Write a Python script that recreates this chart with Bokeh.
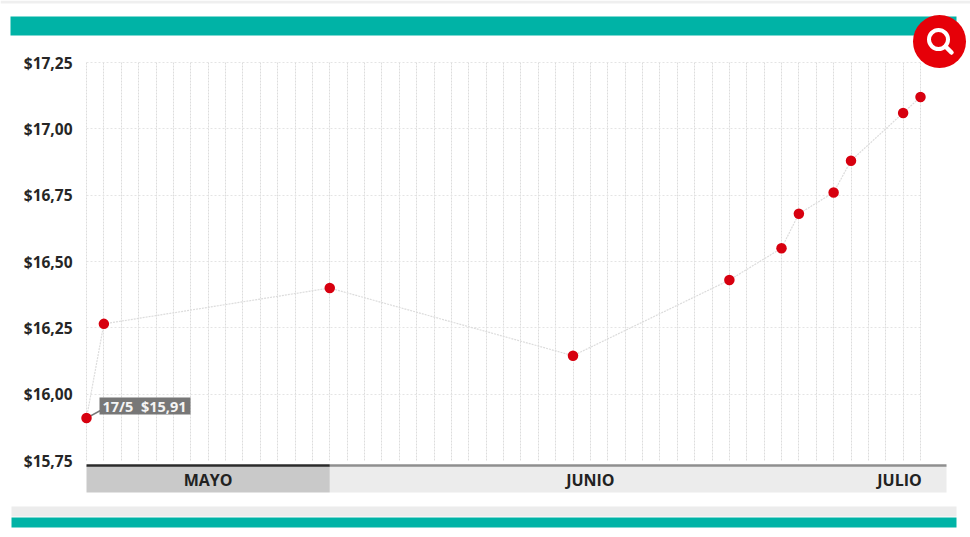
from datetime import datetime, timedelta
from bokeh.plotting import figure
from bokeh.models import Range1d, FixedTicker
from bokeh.core.properties import value
from bokeh.embed import file_html
from bokeh.resources import INLINE

# ---- data ----
dates = ["2024-05-17", "2024-05-18", "2024-05-31", "2024-06-14", "2024-06-23", "2024-06-26",
         "2024-06-27", "2024-06-29", "2024-06-30", "2024-07-03", "2024-07-04"]
prices = [15.91, 16.265, 16.40, 16.145, 16.43, 16.55, 16.68, 16.76, 16.88, 17.06, 17.12]
y_ticks = [15.75, 16.00, 16.25, 16.50, 16.75, 17.00, 17.25]
y_labels = ["$15,75", "$16,00", "$16,25", "$16,50", "$16,75", "$17,00", "$17,25"]
months = ["MAYO", "JUNIO", "JULIO"]
month_label_dates = ["2024-05-24", "2024-06-15", "2024-07-02 19:00"]
callout = "17/5\u00a0 $15,91"

W, H = 970, 537
L = 86
PX_DAY = 17.375
PX_UNIT = 66.33 / 0.25


def d(s):
    return datetime.fromisoformat(s)


x0 = d(dates[0])
xs = [d(s) for s in dates]


def px_x(px):
    return x0 + timedelta(days=(px - L) / PX_DAY)


def px_y(py):
    return 15.75 + (460 - py) / PX_UNIT


def ms(t):
    return (t - datetime(1970, 1, 1)).total_seconds() * 1000


p = figure(width=W, height=H, x_axis_type="datetime", output_backend="svg", toolbar_location=None,
           x_range=Range1d(px_x(0), px_x(W)), y_range=Range1d(px_y(H), px_y(0)),
           min_border_left=0, min_border_right=0, min_border_top=0, min_border_bottom=0,
           margin=(0, 0, 0, 0), outline_line_color=None)
p.xaxis.visible = False
p.background_fill_color = "white"
p.border_fill_color = "white"

# axis: labels sit inside the full-page frame
yax = p.yaxis[0]
yax.ticker = FixedTicker(ticks=y_ticks)
yax.major_label_overrides = dict(zip(y_ticks, y_labels))
yax.axis_line_color = None
yax.major_tick_line_color = None
yax.minor_tick_line_color = None
yax.major_tick_in = 0
yax.major_tick_out = 0
yax.major_label_text_font = "Open Sans"
yax.major_label_text_font_style = "bold"
yax.major_label_text_font_size = "15.5px"
yax.major_label_text_color = "#262626"
yax.major_label_standoff = -72

# grids
day_ticks = [x0 + timedelta(days=i) for i in range((xs[-1] - x0).days + 1)]
xg = p.xgrid[0]
xg.ticker = FixedTicker(ticks=[ms(t) for t in day_ticks])
xg.cross_bounds = (y_ticks[0], y_ticks[-1])
xg.grid_line_color = "#dcdcdc"
xg.grid_line_dash = "2 1"
yg = p.ygrid[0]
yg.ticker = FixedTicker(ticks=y_ticks[1:])
yg.cross_bounds = (ms(x0), ms(xs[-1]))
yg.grid_line_color = "#e4e4e4"
yg.grid_line_dash = "2 2"


# page furniture
def band(l, r, t, b, color):
    p.quad(left=[px_x(l)], right=[px_x(r)], top=[px_y(t)], bottom=[px_y(b)], fill_color=color, line_color=None)


band(0, W, 0, 3, "#efefef")
band(10, 956, 16, 35, "#00b3a6")
band(11, 956, 506, 516, "#ececec")
band(11, 956, 517, 527, "#00b3a6")

# month strip
j1 = d("2024-05-31")
xend = px_x(946)
p.quad(left=[j1], right=[xend], top=[px_y(465)], bottom=[px_y(492)], fill_color="#ececec", line_color=None)
p.quad(left=[x0], right=[j1], top=[px_y(465)], bottom=[px_y(492)], fill_color="#c9c9c9", line_color=None)
p.segment(x0=[j1], x1=[xend], y0=[px_y(465)], y1=[px_y(465)], line_color="#8f8f8f", line_width=2.5)
p.segment(x0=[x0], x1=[j1], y0=[px_y(465)], y1=[px_y(465)], line_color="#2b2b2b", line_width=2.5)
p.text(x=[d(s) for s in month_label_dates], y=[px_y(479)] * 3, text=months,
       text_font=value("Open Sans"), text_font_size="16px", text_font_style="bold",
       text_color="#222222", text_align="center", text_baseline="middle")

# series
p.line(xs, prices, line_color="#dcdcdc", line_width=1.2, line_dash="2 1")
p.segment(x0=[xs[0]], x1=[px_x(100)], y0=[prices[0]], y1=[px_y(410)], line_color="#777777", line_width=1.5)
p.scatter(xs, prices, size=10.5, fill_color="#d7000f", line_color=None)

# callout
p.quad(left=[px_x(99)], right=[px_x(190)], top=[px_y(397)], bottom=[px_y(414)], fill_color="#777777", line_color=None)
p.text(x=[px_x(102)], y=[px_y(405.5)], text=[callout], text_font=value("Open Sans"), text_font_size="14.5px",
       text_font_style="bold", text_color="#f4f4f4", text_align="left", text_baseline="middle")

# magnifier badge
p.scatter([px_x(939)], [px_y(41)], size=53, fill_color="#e60008", line_color=None)
p.scatter([px_x(938)], [px_y(39)], size=19, fill_color=None, line_color="white", line_width=4)
p.segment(x0=[px_x(945)], x1=[px_x(951)], y0=[px_y(46)], y1=[px_y(52)], line_color="white", line_width=4.5, line_cap="round")

open("out.html", "w").write(file_html(p, INLINE))
